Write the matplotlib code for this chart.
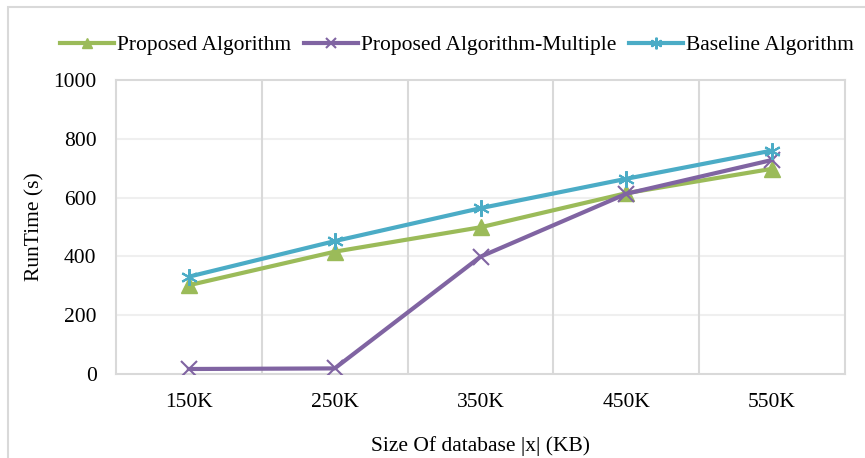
import matplotlib
matplotlib.use("Agg")
import matplotlib.pyplot as plt
from matplotlib.patches import Rectangle

categories = ["150K", "250K", "350K", "450K", "550K"]
proposed = [302, 416, 499, 615, 698]
multiple = [17, 19, 399, 613, 728]
baseline = [331, 452, 564, 664, 760]
yticks = [0, 200, 400, 600, 800, 1000]

plt.rcParams['font.family'] = ['Liberation Serif', 'DejaVu Serif']

W, H = 865, 458
FS = 15.5
fig = plt.figure(figsize=(W/100, H/100), dpi=100)
fig.patches.append(Rectangle((8/W, -0.1), 1.2, (H-7)/H + 0.1, transform=fig.transFigure,
                             fill=False, edgecolor='#d9d9d9', linewidth=1.5))

ax = fig.add_axes([116/W, (H-374)/H, (845-116)/W, (374-80)/H])
x = list(range(len(categories)))

ax.plot(x, proposed, color='#9BBB59', lw=3, marker='^', ms=11, label='Proposed Algorithm', zorder=3)
ax.plot(x, multiple, color='#8064A2', lw=3, marker='x', ms=11, mew=1.5, label='Proposed Algorithm-Multiple', zorder=4)
ax.plot(x, baseline, color='#4BACC6', lw=3, marker=(6, 2, 0), ms=12, mew=1.5, label='Baseline Algorithm', zorder=5)

ax.set_xlim(-0.5, len(categories) - 0.5)
ax.set_ylim(0, 1000)
ax.set_xticks(x)
ax.set_xticklabels(categories)
ax.set_yticks(yticks)
ax.tick_params(length=0, labelsize=FS, colors='black')
ax.tick_params(axis='x', pad=14)
ax.tick_params(axis='y', pad=14)

for yy in yticks[1:-1]:
    ax.axhline(yy, color='#efefef', lw=1.5, zorder=1)
for b in [0.5, 1.5, 2.5, 3.5]:
    ax.axvline(b, color='#d9d9d9', lw=1.5, zorder=1)
for s in ax.spines.values():
    s.set_color('#d9d9d9')
    s.set_linewidth(1.5)

ax.set_xlabel('Size Of database |x| (KB)', fontsize=FS, labelpad=17)
ax.set_ylabel('RunTime (s)', fontsize=FS, labelpad=6)

leg = fig.legend(loc='center', bbox_to_anchor=(457/W, (H-45)/H), ncol=3, frameon=False,
                 fontsize=FS, handlelength=2.5, handletextpad=0.15, columnspacing=0.6,
                 markerscale=0.7)

fig.savefig('out.png', dpi=100)
